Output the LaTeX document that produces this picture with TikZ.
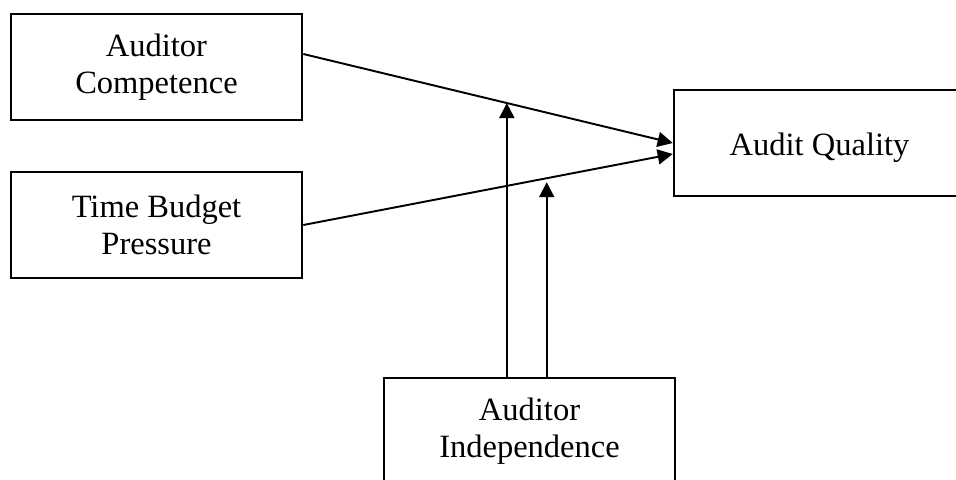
\documentclass[tikz,border=0pt]{standalone}
\usepackage{fontspec}
\setmainfont{Liberation Serif}
\usetikzlibrary{arrows.meta}

\begin{document}
\begin{tikzpicture}[>={Triangle[length=3mm,width=3mm]}]
		
		\useasboundingbox (0,0) rectangle (19.12,9.58);
		
		\tikzset{
			varbox/.style={draw, line width=1.5pt, minimum width=5.82cm, minimum height=2.12cm,
				align=center, font=\fontsize{18.5}{21}\selectfont,
				execute at begin node={\rule{0pt}{17.8pt}}},
			link/.style={line width=1.1pt}
		}
		
		% the variables
		\node[varbox] (comp) at (3.13,8.24) {Auditor\\Competence};
		\node[varbox] (tbp) at (3.13,5.08) {Time Budget\\Pressure};
		\node[varbox] (aq) at (16.39,6.72) {Audit Quality};
		\node[varbox] (indep) at (10.59,0.96) {Auditor\\Independence};
		
		% direct paths
		\draw[link,->] ([yshift=0.26cm]comp.east) -- coordinate[pos=0.551] (m1) (aq.west);
		\draw[link,->] (tbp.east) -- coordinate[pos=0.659] (m2) ([yshift=-0.22cm]aq.west);
		
		% moderating paths
		\draw[link,->] (indep.north -| m1) -- (m1);
		\draw[link,->] (indep.north -| m2) -- ([yshift=-0.08cm]m2);
		
\end{tikzpicture}
\end{document}
